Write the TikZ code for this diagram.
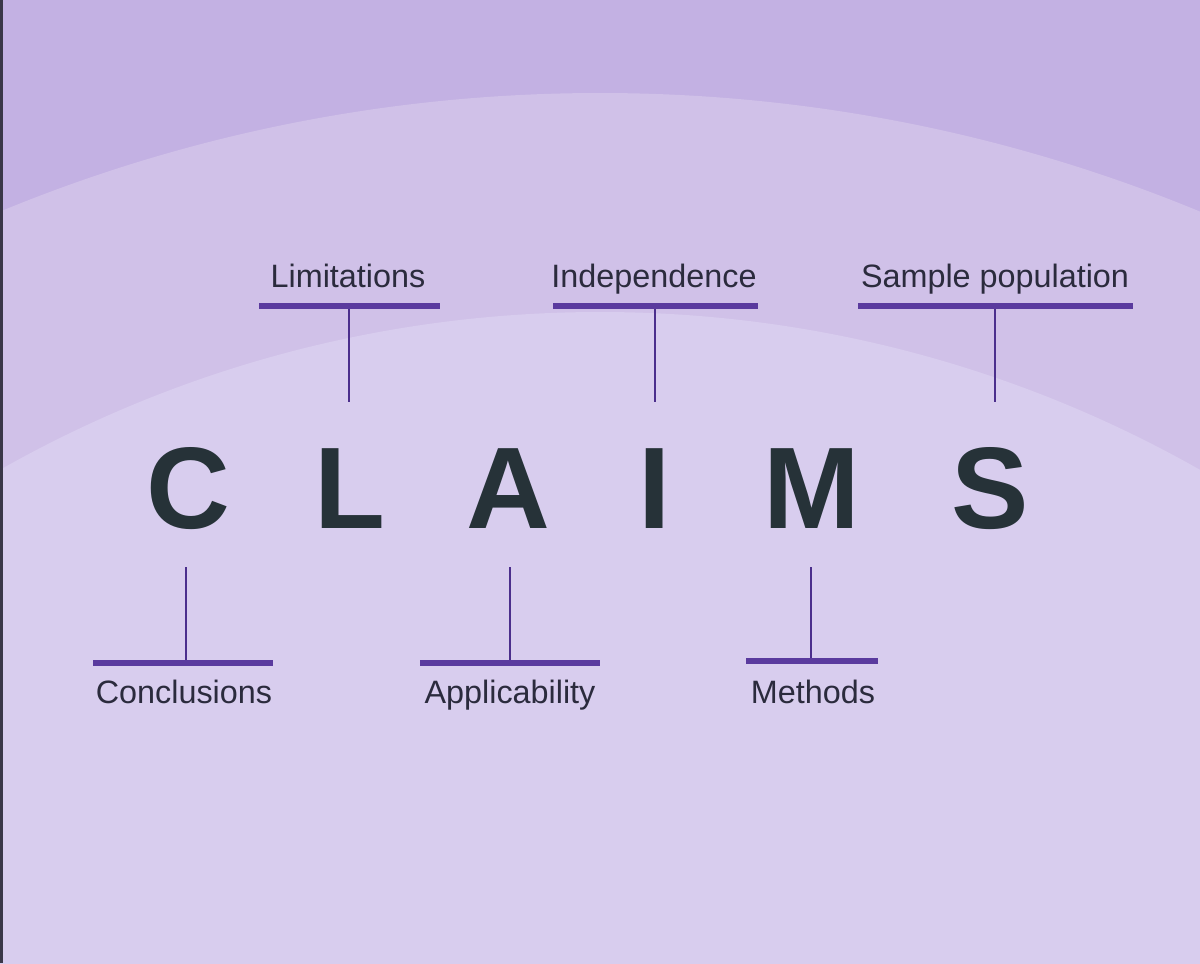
\documentclass[tikz,border=0pt]{standalone}
\usepackage{fontspec}
\setmainfont{Liberation Sans}
\definecolor{bgtop}{HTML}{C3B1E3}
\definecolor{bgmid}{HTML}{D0C1E8}
\definecolor{bginner}{HTML}{D8CDEE}
\definecolor{barcol}{HTML}{5A3A9E}
\definecolor{stemcol}{HTML}{4B2E8C}
\definecolor{labcol}{HTML}{2B2B3D}
\definecolor{bigcol}{HTML}{263238}
\definecolor{edgecol}{HTML}{3A3748}
\tikzset{
  bigletter/.style={anchor=base, text=bigcol, font=\fontsize{33}{33}\selectfont\bfseries, inner sep=0pt},
  label/.style={anchor=base, text=labcol, font=\fontsize{9.2}{10}\selectfont, inner sep=0pt},
  bar/.style={draw=barcol, line width=1.7pt},
  stem/.style={draw=stemcol, line width=0.7pt}
}
\begin{document}
\begin{tikzpicture}[x=0.01cm, y=-0.01cm]
        \useasboundingbox (0,0) rectangle (1200,963);
        %sfondo
        \fill[bgtop] (0,0) rectangle (1200,963);
        \begin{scope}
        \clip (0,0) rectangle (1200,963);
        \fill[bgmid] (600,1665) circle [radius=1572]; %arco esterno
        \fill[bginner] (600,1530) circle [radius=1218]; %arco interno
        \end{scope}
        \fill[edgecol] (0,0) rectangle (3,963); %bordo sinistro
        %lettere
        \node[bigletter] (c) at (188,528) {C};
        \node[bigletter] (l) at (350,528) {L};
        \node[bigletter] (a) at (508,528) {A};
        \node[bigletter] (i) at (655,528) {I};
        \node[bigletter] (m) at (812,528) {M};
        \node[bigletter] (s) at (990,528) {S};
        %etichette sopra
        \node[label] (lim) at (348,287) {Limitations};
        \node[label] (ind) at (654,287) {Independence};
        \node[label] (sam) at (995,287) {Sample population};
        %etichette sotto
        \node[label] (con) at (184,703) {Conclusions};
        \node[label] (app) at (510,703) {Applicability};
        \node[label] (met) at (813,703) {Methods};
        %punti delle barre
        \coordinate (limbar) at (349,306);
        \coordinate (indbar) at (655,306);
        \coordinate (sambar) at (995,306);
        \coordinate (conbar) at (186,663);
        \coordinate (appbar) at (510,663);
        \coordinate (metbar) at (811,661);
        \coordinate (limend) at (349,402);
        \coordinate (indend) at (655,402);
        \coordinate (samend) at (995,402);
        \coordinate (conend) at (186,567);
        \coordinate (append) at (510,567);
        \coordinate (metend) at (811,567);
        %aste
        \draw[stem] (limbar)--(limend);
        \draw[stem] (indbar)--(indend);
        \draw[stem] (sambar)--(samend);
        \draw[stem] (conbar)--(conend);
        \draw[stem] (appbar)--(append);
        \draw[stem] (metbar)--(metend);
        %barre
        \draw[bar] (limbar) ++(-90,0)--++(181,0);
        \draw[bar] (indbar) ++(-102,0)--++(205,0);
        \draw[bar] (sambar) ++(-137,0)--++(275,0);
        \draw[bar] (conbar) ++(-93,0)--++(180,0);
        \draw[bar] (appbar) ++(-90,0)--++(180,0);
        \draw[bar] (metbar) ++(-65,0)--++(132,0);
    \end{tikzpicture}
\end{document}
